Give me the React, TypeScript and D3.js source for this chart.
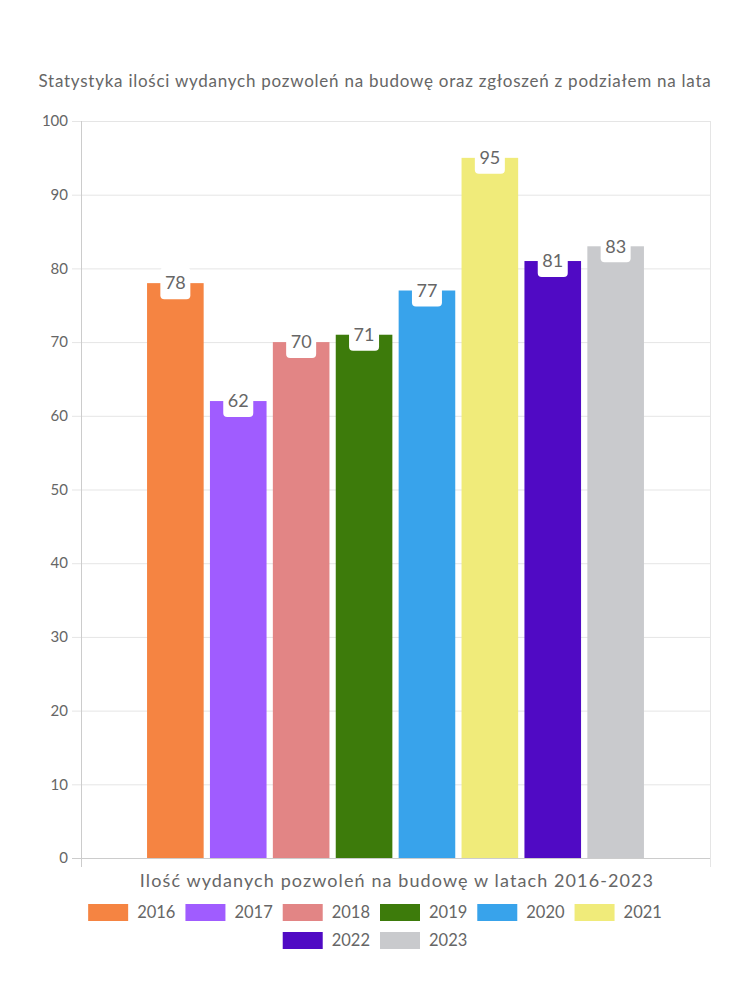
import * as d3 from 'd3';
import { useEffect, useRef } from 'react';

const years = ['2016', '2017', '2018', '2019', '2020', '2021', '2022', '2023'];
const values = [78, 62, 70, 71, 77, 95, 81, 83];
const colors = ['#f58442', '#a05cff', '#e28585', '#3d7b0b', '#38a3eb', '#f0eb7a', '#500ac4', '#c9cacd'];
const yTicks = [0, 10, 20, 30, 40, 50, 60, 70, 80, 90, 100];

const title = 'Statystyka ilości wydanych pozwoleń na budowę oraz zgłoszeń z podziałem na lata';
const xTitle = 'Ilość wydanych pozwoleń na budowę w latach 2016-2023';

const W = 750;
const H = 1000;
const plot = { left: 81, right: 710, top: 121, bottom: 858 };
const font = 'Lato, sans-serif';
const textColor = '#666';
const gridColor = '#e5e5e5';

export default function App() {
  const svgRef = useRef(null);

  useEffect(() => {
    const svg = d3.select(svgRef.current);
    svg.selectAll('*').remove();

    const y = d3.scaleLinear().domain([0, 100]).range([plot.bottom, plot.top]);

    // one category, bars grouped inside it (80% of category, 90% of each slot)
    const catW = plot.right - plot.left;
    const groupW = catW * 0.8;
    const groupStart = plot.left + (catW - groupW) / 2;
    const x = d3.scaleBand().domain(years).range([groupStart, groupStart + groupW]).paddingInner(0.1).paddingOuter(0.05);

    // title
    svg.append('text')
      .attr('x', 375)
      .attr('y', 87)
      .attr('text-anchor', 'middle')
      .style('font-family', font)
      .style('font-size', '17px')
      .style('letter-spacing', '0.75px')
      .style('fill', textColor)
      .text(title);

    // horizontal grid + ticks
    const g = svg.append('g');
    g.selectAll('line.h')
      .data(yTicks)
      .enter()
      .append('line')
      .attr('x1', plot.left - 9)
      .attr('x2', plot.right)
      .attr('y1', (d) => y(d) + 0.5)
      .attr('y2', (d) => y(d) + 0.5)
      .style('stroke', (d) => (d === 0 ? '#ccc' : gridColor));

    g.selectAll('text.ytick')
      .data(yTicks)
      .enter()
      .append('text')
      .attr('x', plot.left - 13)
      .attr('y', (d) => y(d))
      .attr('dy', '0.35em')
      .attr('text-anchor', 'end')
      .style('font-family', font)
      .style('font-size', '15px')
      .style('fill', textColor)
      .text((d) => d);

    // vertical grid lines at category edges
    g.selectAll('line.v')
      .data([plot.left, plot.right])
      .enter()
      .append('line')
      .attr('x1', (d) => d + 0.5)
      .attr('x2', (d) => d + 0.5)
      .attr('y1', plot.top)
      .attr('y2', plot.bottom + 9)
      .style('stroke', (d) => (d === plot.left ? '#ccc' : gridColor));

    // bars
    svg.append('g')
      .selectAll('rect')
      .data(values)
      .enter()
      .append('rect')
      .attr('x', (_, i) => x(years[i]) as number)
      .attr('width', x.bandwidth())
      .attr('y', (d) => y(d))
      .attr('height', (d) => plot.bottom - y(d))
      .style('fill', (_, i) => colors[i]);

    // data labels
    const lbl = svg.append('g')
      .selectAll('g')
      .data(values)
      .enter()
      .append('g')
      .attr('transform', (d, i) => `translate(${(x(years[i]) as number) + x.bandwidth() / 2},${y(d)})`);

    lbl.append('rect')
      .attr('x', -15)
      .attr('y', -16)
      .attr('width', 30)
      .attr('height', 32)
      .attr('rx', 4)
      .style('fill', '#fff');

    lbl.append('text')
      .attr('text-anchor', 'middle')
      .attr('dy', '0.35em')
      .style('font-family', font)
      .style('font-size', '18px')
      .style('fill', textColor)
      .text((d) => d);

    // x axis title
    svg.append('text')
      .attr('x', 397)
      .attr('y', 887)
      .attr('text-anchor', 'middle')
      .style('font-family', font)
      .style('font-size', '18px')
      .style('letter-spacing', '1.1px')
      .style('fill', textColor)
      .text(xTitle);

    // legend, two centred rows
    const rows = [years.slice(0, 6), years.slice(6)];
    const rowY = [912.5, 940.5];
    const legendCenter = 380;
    rows.forEach((row, r) => {
      const grp = svg.append('g');
      const items = grp
        .selectAll('g')
        .data(row)
        .enter()
        .append('g');
      items.append('rect')
        .attr('x', 0)
        .attr('y', -8.5)
        .attr('width', 40)
        .attr('height', 17)
        .style('fill', (d) => colors[years.indexOf(d)]);
      items.append('text')
        .attr('x', 49)
        .attr('dy', '0.35em')
        .style('font-family', font)
        .style('font-size', '16.5px')
        .style('fill', textColor)
        .text((d) => d);
      const widths: number[] = [];
      items.each(function () {
        const t = d3.select(this).select('text').node() as SVGTextElement;
        widths.push(40 + 10 + t.getComputedTextLength() + 9);
      });
      const total = d3.sum(widths);
      let cx = legendCenter - total / 2;
      items.attr('transform', (_, i) => {
        const tx = cx;
        cx += widths[i];
        return `translate(${tx},${rowY[r]})`;
      });
    });
  }, []);

  return (
    <div>
      <svg ref={svgRef} width={W} height={H} style={{ display: 'block', margin: '-8px' }}></svg>
    </div>
  );
}
